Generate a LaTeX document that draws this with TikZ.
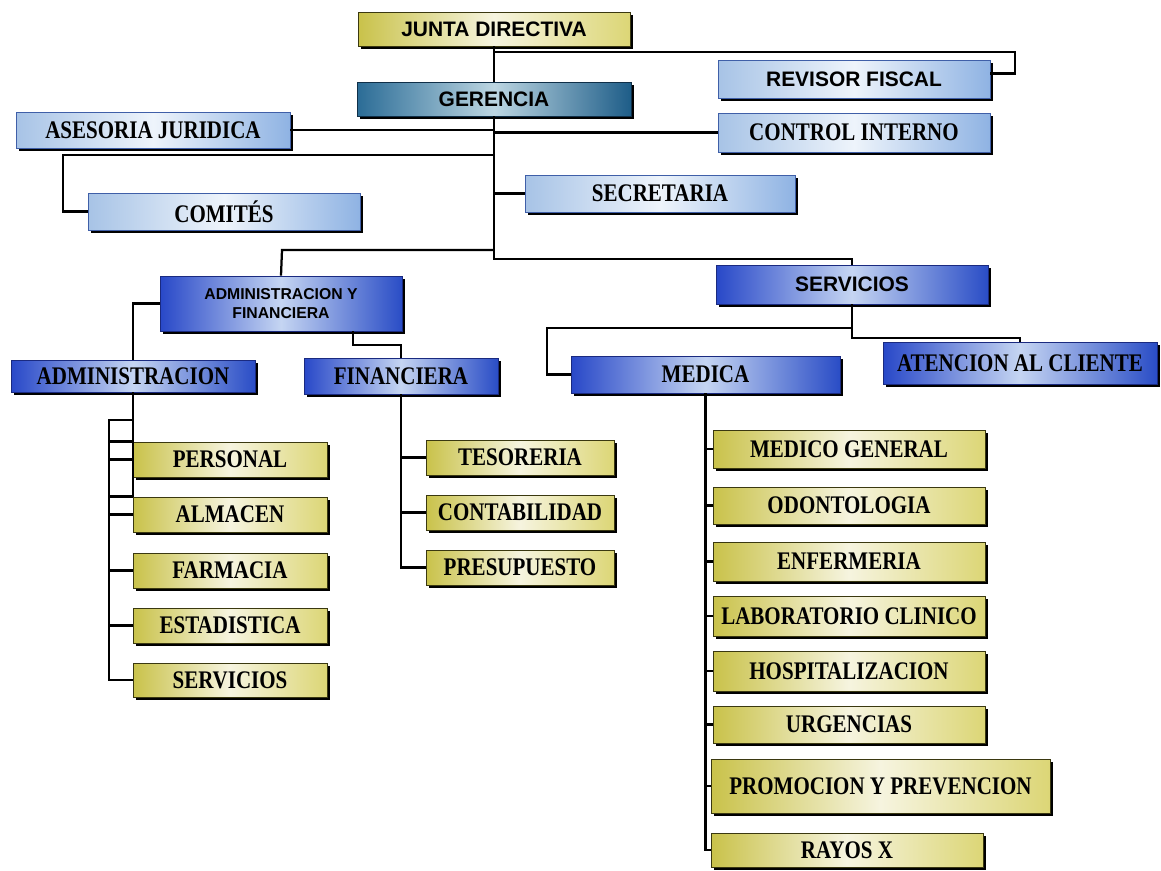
\documentclass[tikz,border=0pt]{standalone}
\usepackage{fontspec}
\newfontfamily\unitsans{Liberation Sans}
\newfontfamily\unitserif[FakeStretch=0.83]{Liberation Serif}
\usetikzlibrary{shadows}

\definecolor{olivelft}{HTML}{C9C24A}
\definecolor{olivemid}{HTML}{F6F4DF}
\definecolor{oliverht}{HTML}{DCD676}
\definecolor{oliveline}{HTML}{3A3810}
\definecolor{palelft}{HTML}{A7C3E6}
\definecolor{palemid}{HTML}{EEF4FB}
\definecolor{palerht}{HTML}{8FB3E3}
\definecolor{paleline}{HTML}{3F5FA8}
\definecolor{bluelft}{HTML}{2848C8}
\definecolor{bluemid}{HTML}{C5D5F2}
\definecolor{bluerht}{HTML}{2A4DC6}
\definecolor{blueline}{HTML}{1A2A80}
\definecolor{teallft}{HTML}{2B6C96}
\definecolor{tealmid}{HTML}{BCD6E2}
\definecolor{tealrht}{HTML}{1E5D88}
\definecolor{tealline}{HTML}{0F2F48}

\tikzset{
	unit/.style={inner sep=0pt, text=black, line width=0.6pt,
		drop shadow={shadow xshift=2pt, shadow yshift=-2pt, fill=black, opacity=1}},
	yellowunit/.style={unit, draw=oliveline, left color=olivelft, right color=oliverht, middle color=olivemid},
	paleunit/.style={unit, draw=paleline, left color=palelft, right color=palerht, middle color=palemid},
	blueunit/.style={unit, draw=blueline, left color=bluelft, right color=bluerht, middle color=bluemid},
	tealunit/.style={unit, draw=tealline, left color=teallft, right color=tealrht, middle color=tealmid},
	sanstext/.style={font=\unitsans\bfseries\fontsize{14.9}{17}\selectfont},
	seriftext/.style={font=\unitserif\bfseries\fontsize{18}{20}\selectfont},
	smallsans/.style={font=\unitsans\bfseries\fontsize{11.2}{13.5}\selectfont, align=center},
	link/.style={line width=1.6pt, black}
}

%box from its corners (x1,y1) (x2,y2), in pixels
\newcommand{\orgunit}[7]{
	\node[#1, minimum width={(#5-#3)*0.025cm}, minimum height={(#6-#4)*0.025cm}]
		(#2) at ({(#3+#5)/2},{(#4+#6)/2}) {#7};
}

\begin{document}
\begin{tikzpicture}[x=0.025cm, y=-0.025cm]
	\useasboundingbox (0,0) rectangle (1161,870);

	%turning points of the connectors
	\coordinate (revturn) at (1015,52);
	\coordinate (comturn) at (63,155);
	\coordinate (afturn) at (282,250);
	\coordinate (svturn) at (852,259);
	\coordinate (afdrop) at (353,345);
	\coordinate (admrail) at (109,420);
	\coordinate (medturn) at (547,328);
	\coordinate (atturn) at (1020,338);

	%top level
	\orgunit{yellowunit, sanstext}{junta}{358}{12}{630}{46}{JUNTA DIRECTIVA}
	\orgunit{tealunit, sanstext}{gerencia}{357}{82}{631}{116}{GERENCIA}
	\orgunit{paleunit, sanstext}{revisor}{718}{60}{990}{98}{REVISOR FISCAL}
	\orgunit{paleunit, seriftext}{asesoria}{16}{112}{290}{148}{ASESORIA JURIDICA}
	\orgunit{paleunit, seriftext}{control}{718}{113}{990}{152}{CONTROL INTERNO}
	\orgunit{paleunit, seriftext}{comites}{88}{193}{360}{230}{COMITÉS}
	\orgunit{paleunit, seriftext}{secretaria}{525}{175}{795}{212}{SECRETARIA}

	%second level
	\orgunit{blueunit, smallsans}{admfin}{160}{276}{402}{331}{ADMINISTRACION Y\\FINANCIERA}
	\orgunit{blueunit, sanstext}{servicios}{716}{265}{988}{304}{SERVICIOS}
	\orgunit{blueunit, seriftext}{adm}{11}{360}{255}{392}{ADMINISTRACION}
	\orgunit{blueunit, seriftext}{fin}{304}{358}{498}{394}{FINANCIERA}
	\orgunit{blueunit, seriftext}{medica}{571}{356}{840}{393}{MEDICA}
	\orgunit{blueunit, seriftext}{atencion}{883}{342}{1157}{384}{ATENCION AL CLIENTE}

	%administracion
	\orgunit{yellowunit, seriftext}{pers}{133}{442}{327}{477}{PERSONAL}
	\orgunit{yellowunit, seriftext}{alm}{133}{497}{327}{532}{ALMACEN}
	\orgunit{yellowunit, seriftext}{farm}{133}{553}{327}{588}{FARMACIA}
	\orgunit{yellowunit, seriftext}{est}{133}{608}{327}{643}{ESTADISTICA}
	\orgunit{yellowunit, seriftext}{servadm}{133}{663}{327}{697}{SERVICIOS}

	%financiera
	\orgunit{yellowunit, seriftext}{tes}{426}{440}{614}{475}{TESORERIA}
	\orgunit{yellowunit, seriftext}{cont}{426}{495}{614}{530}{CONTABILIDAD}
	\orgunit{yellowunit, seriftext}{pres}{426}{550}{614}{585}{PRESUPUESTO}

	%medica
	\orgunit{yellowunit, seriftext}{medgen}{713}{430}{985}{468}{MEDICO GENERAL}
	\orgunit{yellowunit, seriftext}{odon}{713}{487}{985}{524}{ODONTOLOGIA}
	\orgunit{yellowunit, seriftext}{enf}{713}{542}{985}{581}{ENFERMERIA}
	\orgunit{yellowunit, seriftext}{lab}{713}{596}{985}{636}{LABORATORIO CLINICO}
	\orgunit{yellowunit, seriftext}{hosp}{713}{651}{985}{691}{HOSPITALIZACION}
	\orgunit{yellowunit, seriftext}{urg}{713}{706}{985}{743}{URGENCIAS}
	\orgunit{yellowunit, seriftext}{prom}{711}{759}{1050}{813}{PROMOCION Y PREVENCION}
	\orgunit{yellowunit, seriftext}{rayos}{711}{833}{983}{867}{RAYOS X}

	%junta and gerencia
	\draw[link] (junta.south) -- (gerencia.north);
	\draw[link] (junta.south |- revturn) -- (revturn) |- ([yshift=4pt]revisor.east);
	\draw[link] (gerencia.south) -- (gerencia.south |- svturn) -- (svturn) -- (servicios.north);
	\draw[link] (asesoria.east) -- (gerencia.south |- asesoria.east);
	\draw[link] (control.west) -- (gerencia.south |- control.west);
	\draw[link] (gerencia.south |- comturn) -- (comturn) |- (comites.west);
	\draw[link] (secretaria.west) -- (gerencia.south |- secretaria.west);
	\draw[link] (gerencia.south |- afturn) -- (afturn) -- (admfin.north);

	%administracion y financiera
	\draw[link] (admfin.west) -| (adm.north);
	\draw[link] (afdrop |- admfin.south) -- (afdrop) -| (fin.north);
	\draw[link] (adm.south) -- (adm.south |- alm.north west);
	\draw[link] (adm.south |- admrail) -- (admrail) |- (servadm.west);
	\foreach \u in {pers, alm, farm, est}{
		\draw[link] (admrail |- \u.west) -- (\u.west);
	}
	\draw[link] (admrail |- pers.north west) -- (pers.north west);
	\draw[link] (admrail |- alm.north west) -- (alm.north west);
	\draw[link] (fin.south) |- (pres.west);
	\draw[link] (fin.south |- tes.west) -- (tes.west);	\draw[link] (fin.south |- cont.west) -- (cont.west);

	%servicios
	\draw[link] (servicios.south |- medturn) -- (medturn) |- (medica.west);
	\draw[link] (servicios.south) |- (atturn) -- (atencion.north);
	\draw[link] (medica.south) |- (rayos.west);
	\foreach \u in {medgen, odon, enf, lab, hosp, urg, prom}{
		\draw[link] (medica.south |- \u.west) -- (\u.west);
	}
\end{tikzpicture}
\end{document}
